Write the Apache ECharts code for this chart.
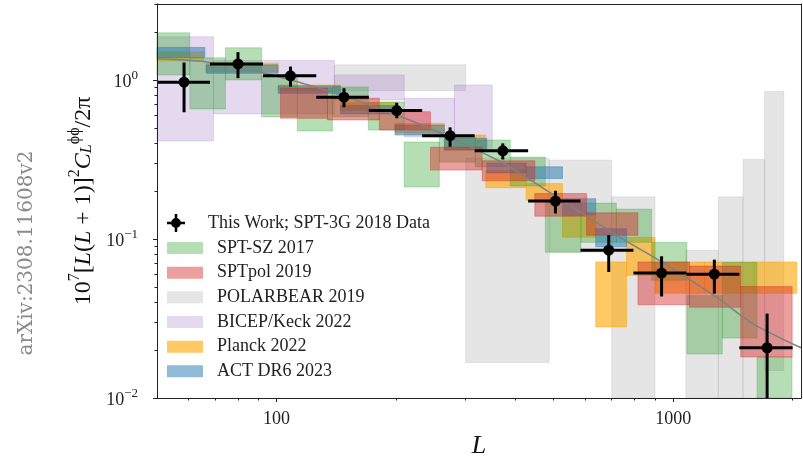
<!DOCTYPE html>
<html><head><meta charset="utf-8">
<script src="https://cdn.jsdelivr.net/npm/echarts@6/dist/echarts.min.js"></script>
<style>html,body{margin:0;padding:0;background:#fff}#c{width:803px;height:458px}</style>
</head><body><div id="c"></div>
<script>
const FONT = 'Liberation Serif';

// ---- This Work; SPT-3G 2018 (bandpowers) ----
const twL    = [58.5, 80, 108.5, 148, 201, 274, 372, 505, 688, 935, 1270, 1725];
const binLo  = [50, 68, 92.5, 126, 171, 233, 316, 431, 584, 794, 1080, 1468];
const binHi  = [68, 92.5, 126, 171, 233, 316, 431, 584, 794, 1080, 1468, 2000];
const twVal  = [0.967, 1.26, 1.06, 0.778, 0.641, 0.446, 0.358, 0.173, 0.085, 0.061, 0.060, 0.0207];
const twLow  = [0.626, 1.025, 0.907, 0.673, 0.574, 0.380, 0.316, 0.1446, 0.062, 0.0435, 0.0453, 0.005];
const twHigh = [1.285, 1.494, 1.213, 0.886, 0.719, 0.503, 0.399, 0.2007, 0.1055, 0.0778, 0.0741, 0.0339];

// ---- theory curve ----
const theoryL = [50, 67, 93.3, 137.5, 204, 273, 364.5, 409, 508, 731, 922, 1283, 1584, 2100];
const theoryV = [1.356, 1.293, 1.102, 0.840, 0.593, 0.437, 0.309, 0.260, 0.184, 0.103, 0.0734, 0.0432, 0.0295, 0.0207];

// ---- boxes: [Lmin, Lmax, low, high] ----
const sptsz = [
  [50, 60.5, 1.075, 1.976], [60.5, 74.4, 0.657, 1.376], [74.4, 91.7, 1.0, 1.591],
  [91.7, 112.9, 0.585, 1.060], [112.9, 138.4, 0.477, 0.890], [138.4, 170.4, 0.585, 0.903],
  [170.4, 209.9, 0.484, 0.727], [209.9, 257.4, 0.212, 0.407], [257.4, 317.2, 0.304, 0.437],
  [317.2, 388.6, 0.284, 0.419], [388.6, 476.1, 0.215, 0.327], [476.1, 585.6, 0.0825, 0.170],
  [585.6, 719.1, 0.0952, 0.168], [719.1, 882.6, 0.0952, 0.154], [882.6, 1083, 0.055, 0.0952],
  [1083, 1330, 0.0189, 0.044], [1330, 1627, 0.0238, 0.0713], [1627, 1993, 0.005, 0.0181]
];
const sptpol = [
  [102.4, 134.5, 0.574, 0.886], [134.5, 181.7, 0.560, 0.767], [181.7, 244.5, 0.484, 0.631],
  [244.5, 330, 0.271, 0.377], [330, 448, 0.232, 0.310], [448, 605, 0.139, 0.193],
  [605, 815, 0.1055, 0.146], [815, 1100, 0.0386, 0.0717], [1100, 1480, 0.0372, 0.0675],
  [1480, 1995, 0.0181, 0.0502]
];
const polarbear = [
  [140, 300, 0.856, 1.243], [300, 487, 0.0167, 0.322], [487, 700, 0.0825, 0.313],
  [700, 900, 0.005, 0.184], [1076, 1300, 0.005, 0.085], [1300, 1500, 0.005, 0.184],
  [1500, 1700, 0.005, 0.316], [1700, 1900, 0.0149, 0.844]
];
const bicep = [
  [50, 69.4, 0.413, 1.866], [69.4, 140, 0.611, 1.323], [140, 210, 0.748, 1.075],
  [210, 281, 0.438, 0.767], [281, 350, 0.372, 0.93]
];
const planck = [
  [50, 65.5, 1.317, 1.5], [66.5, 101, 1.123, 1.274], [101, 145, 0.85, 0.93],
  [145, 199, 0.64, 0.72], [199, 265, 0.464, 0.533], [265, 337, 0.362, 0.45],
  [337, 426, 0.21, 0.27], [426, 526, 0.175, 0.223], [526, 638, 0.1025, 0.139],
  [638, 763, 0.028, 0.0717], [763, 900, 0.0591, 0.1023], [900, 1200, 0.0455, 0.0717],
  [1200, 1600, 0.0455, 0.0717], [1600, 2048, 0.0455, 0.0717]
];
const act = [
  [50, 66, 1.38, 1.6], [66.5, 101, 1.10, 1.243], [101, 145, 0.824, 0.917],
  [145, 199, 0.61, 0.69], [199, 265, 0.45, 0.521], [265, 339, 0.362, 0.43],
  [339, 426, 0.26, 0.30], [426, 526, 0.24, 0.284], [526, 638, 0.141, 0.179],
  [638, 763, 0.0892, 0.116]
];

const xMajor = [100, 1000];
const xMinor = [60, 70, 80, 90, 200, 300, 400, 500, 600, 700, 800, 900, 2000];
const yMajor = [0.01, 0.1, 1];
const yMinor = [0.02, 0.03, 0.04, 0.05, 0.06, 0.07, 0.08, 0.09, 0.2, 0.3, 0.4, 0.5, 0.6, 0.7, 0.8, 0.9, 2, 3];

const NAMES = ['This Work; SPT-3G 2018 Data', 'SPT-SZ 2017', 'SPTpol 2019', 'POLARBEAR 2019', 'BICEP/Keck 2022', 'Planck 2022', 'ACT DR6 2023'];

function boxRender(params, api) {
  const a = api.coord([api.value(0), api.value(3)]);
  const b = api.coord([api.value(1), api.value(2)]);
  const cs = params.coordSys;
  const r = echarts.graphic.clipRectByRect(
    {x: a[0], y: a[1], width: b[0] - a[0], height: b[1] - a[1]},
    {x: cs.x, y: cs.y, width: cs.width, height: cs.height});
  if (!r) return;
  const col = api.visual('color');
  return {type: 'rect', shape: r, style: {fill: col, stroke: col, lineWidth: 0.8}};
}
function twRender(params, api) {
  const cs = params.coordSys;
  const c = api.coord([api.value(0), api.value(3)]);
  const l = api.coord([api.value(1), api.value(3)]);
  const r = api.coord([api.value(2), api.value(3)]);
  const lo = api.coord([api.value(0), api.value(4)]);
  const hi = api.coord([api.value(0), api.value(5)]);
  const bottom = cs.y + cs.height, left = cs.x, right = cs.x + cs.width;
  return {type: 'group', children: [
    {type: 'line', shape: {x1: Math.max(l[0], left), y1: c[1], x2: Math.min(r[0], right), y2: c[1]}, style: {stroke: '#000', lineWidth: 3}},
    {type: 'line', shape: {x1: c[0], y1: Math.min(lo[1], bottom), x2: c[0], y2: Math.max(hi[1], cs.y)}, style: {stroke: '#000', lineWidth: 3}},
    {type: 'circle', shape: {cx: c[0], cy: c[1], r: 5.5}, style: {fill: '#000'}}
  ]};
}
function boxSeries(name, data, color) {
  return {type: 'custom', name, data, renderItem: boxRender, itemStyle: {color},
    encode: {x: [0, 1], y: [2, 3]}, xAxisIndex: 0, yAxisIndex: 0, silent: true, animation: false};
}

const twData = twL.map((L, i) => [L, binLo[i], binHi[i], twVal[i], twLow[i], twHigh[i]]);
const theoryData = theoryL.map((L, i) => [L, theoryV[i]]);

const axisCol = '#222';
const legendText = {fontFamily: FONT, fontSize: 18, color: '#222', lineHeight: 20};
const legendFmt = n => '\u2002' + n;

const option = {
  animation: false,
  backgroundColor: '#fff',
  grid: {left: 157, right: 2, top: 4, bottom: 60, containLabel: false, outerBoundsMode: 'none'},
  xAxis: [
    {type: 'log', logBase: 10, min: 50, max: 2100, position: 'bottom', z: 10,
      axisLine: {show: true, onZero: false, lineStyle: {color: axisCol, width: 1}},
      axisTick: {show: true, customValues: xMajor, length: 4, lineStyle: {color: axisCol}},
      axisLabel: {show: true, customValues: xMajor, margin: 12, color: '#222', fontFamily: FONT, fontSize: 18,
        formatter: v => String(Math.round(v))},
      splitLine: {show: false},
      name: 'L', nameLocation: 'middle', nameGap: 20,
      nameTextStyle: {fontFamily: FONT, fontStyle: 'italic', fontSize: 26, color: '#111'}},
    {type: 'log', logBase: 10, min: 50, max: 2100, position: 'bottom', z: 10,
      axisLine: {show: false},
      axisTick: {show: true, customValues: xMinor, length: 2.5, lineStyle: {color: axisCol}},
      axisLabel: {show: false}, splitLine: {show: false}},
    {type: 'log', logBase: 10, min: 50, max: 2100, position: 'top', z: 10,
      axisLine: {show: true, onZero: false, lineStyle: {color: axisCol, width: 1}},
      axisTick: {show: false}, axisLabel: {show: false}, splitLine: {show: false}}
  ],
  yAxis: [
    {type: 'log', logBase: 10, min: 0.01, max: 3, position: 'left', z: 10,
      axisLine: {show: true, onZero: false, lineStyle: {color: axisCol, width: 1}},
      axisTick: {show: true, customValues: yMajor, length: 4, lineStyle: {color: axisCol}},
      axisLabel: {show: true, customValues: yMajor, margin: 19,
        formatter: v => { const e = Math.round(Math.log10(v)); return '{b|10}{s|' + (e < 0 ? '\u2212' + (-e) : e) + '}'; },
        rich: {b: {fontFamily: FONT, fontSize: 18, lineHeight: 22, verticalAlign: 'bottom', color: '#222'},
               s: {fontFamily: FONT, fontSize: 13, lineHeight: 13, verticalAlign: 'top', color: '#222'}}},
      splitLine: {show: false},
      name: '{n|10}{s|7}{n|[}{i|L}{n|(}{i|L}{n| + 1)]}{s|2}{i|C}{d|L}{s|\u03D5\u03D5}{n|/2\u03C0}',
      nameLocation: 'middle', nameGap: 58, nameRotate: 90,
      nameTextStyle: {rich: {
        n: {fontFamily: FONT, fontSize: 24, lineHeight: 28, verticalAlign: 'bottom', color: '#111'},
        i: {fontFamily: FONT, fontSize: 24, fontStyle: 'italic', lineHeight: 28, verticalAlign: 'bottom', color: '#111'},
        s: {fontFamily: FONT, fontSize: 16, lineHeight: 16, verticalAlign: 'top', color: '#111'},
        d: {fontFamily: FONT, fontSize: 16, fontStyle: 'italic', lineHeight: 16, verticalAlign: 'bottom', color: '#111'}}}},
    {type: 'log', logBase: 10, min: 0.01, max: 3, position: 'left', z: 10,
      axisLine: {show: false},
      axisTick: {show: true, customValues: yMinor, length: 2.5, lineStyle: {color: axisCol}},
      axisLabel: {show: false}, splitLine: {show: false}},
    {type: 'log', logBase: 10, min: 0.01, max: 3, position: 'right', z: 10,
      axisLine: {show: true, onZero: false, lineStyle: {color: axisCol, width: 1}},
      axisTick: {show: false}, axisLabel: {show: false}, splitLine: {show: false}}
  ],
  legend: [
    {data: [{name: NAMES[0], icon: 'path://M0,8.6h20v2.8h-20z M8.6,0h2.8v20h-2.8z M10,4.5a5.5,5.5 0 1,1 0,11a5.5,5.5 0 1,1 0,-11z'}],
      orient: 'vertical', left: 167, top: 213, itemWidth: 36, itemHeight: 18, itemGap: 4.67,
      selectedMode: false, textStyle: legendText, formatter: legendFmt, padding: 0},
    {data: NAMES.slice(1).map(n => ({name: n, icon: 'rect'})),
      orient: 'vertical', left: 167, top: 238, itemWidth: 36, itemHeight: 12, itemGap: 4.67,
      selectedMode: false, textStyle: legendText, formatter: legendFmt, padding: 0}
  ],
  graphic: [{type: 'text', x: 27, y: 253, rotation: Math.PI / 2,
    style: {text: 'arXiv:2308.11608v2', font: '20px "DejaVu Serif"', fill: '#8a8a8a', align: 'center', verticalAlign: 'middle'}}],
  series: [
    boxSeries(NAMES[3], polarbear, 'rgba(127,127,127,0.2)'),
    boxSeries(NAMES[4], bicep, 'rgba(148,103,189,0.25)'),
    boxSeries(NAMES[5], planck, 'rgba(255,165,0,0.6)'),
    boxSeries(NAMES[1], sptsz, 'rgba(44,160,44,0.35)'),
    boxSeries(NAMES[6], act, 'rgba(31,119,180,0.5)'),
    boxSeries(NAMES[2], sptpol, 'rgba(214,39,40,0.45)'),
    {type: 'line', name: 'theory', data: theoryData, smooth: 0.3, showSymbol: false, silent: true,
      lineStyle: {color: '#808080', width: 1.5}, itemStyle: {color: '#808080'}, xAxisIndex: 0, yAxisIndex: 0, z: 3},
    {type: 'custom', name: NAMES[0], data: twData, renderItem: twRender, itemStyle: {color: '#000'},
      encode: {x: [0, 1, 2], y: [3, 4, 5]}, xAxisIndex: 0, yAxisIndex: 0, z: 4, silent: true}
  ]
};
const chart = echarts.init(document.getElementById('c'), null, {renderer: 'canvas'});
chart.setOption(option);
</script></body></html>
